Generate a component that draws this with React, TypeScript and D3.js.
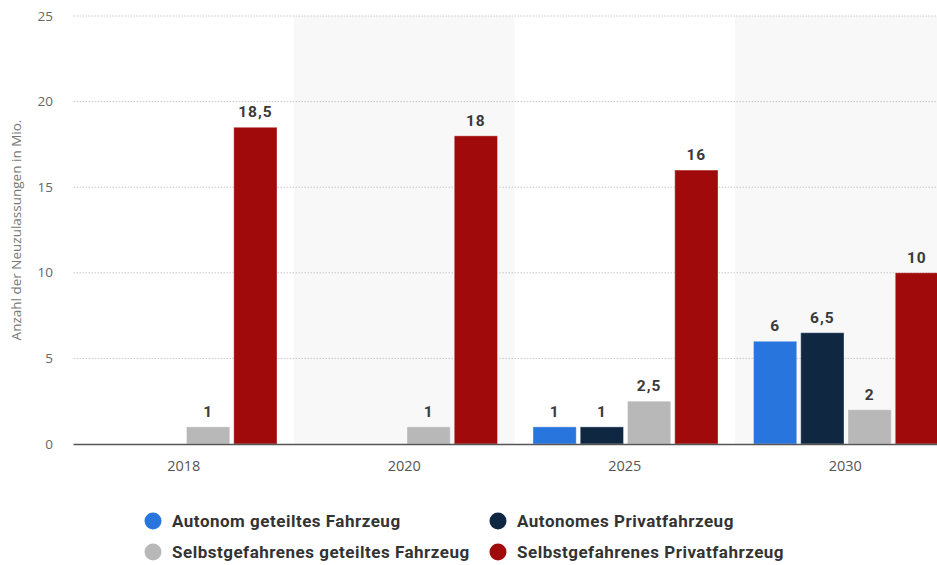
import React from "react";
import * as d3 from "d3";

const categories = ["2018", "2020", "2025", "2030"];
const seriesNames = [
  "Autonom geteiltes Fahrzeug",
  "Autonomes Privatfahrzeug",
  "Selbstgefahrenes geteiltes Fahrzeug",
  "Selbstgefahrenes Privatfahrzeug",
];
const autonomGeteilt = [0, 0, 1, 6];
const autonomPrivat = [0, 0, 1, 6.5];
const selbstGeteilt = [1, 1, 2.5, 2];
const selbstPrivat = [18.5, 18, 16, 10];
const seriesValues = [autonomGeteilt, autonomPrivat, selbstGeteilt, selbstPrivat];
const seriesColors = ["#2876dd", "#0f2741", "#b8b8b8", "#a10a0a"];
const yTicks = [0, 5, 10, 15, 20, 25];
const yTitle = "Anzahl der Neuzulassungen in Mio.";

const W = 937;
const H = 565;
const left = 73.5;
const right = 955.5;
const top = 16;
const bottom = 444;

const fmt = (v: number) => String(v).replace(".", ",");

export default function App() {
  const x = d3.scaleBand<string>().domain(categories).range([left, right]).paddingInner(0).paddingOuter(0);
  const inner = d3
    .scaleBand<number>()
    .domain([0, 1, 2, 3])
    .range([18.5, x.bandwidth() - 17])
    .paddingInner(0.085);
  const y = d3.scaleLinear().domain([0, 25]).range([bottom, top]);
  const font = "'Open Sans', 'DejaVu Sans', sans-serif";
  const boldFont = "'Roboto', sans-serif";

  return (
    <svg width={W} height={H} style={{ position: "absolute", left: 0, top: 0, display: "block" }}>
      <rect x={0} y={0} width={W} height={H} fill="#ffffff" />
      {categories.map((c, i) =>
        i % 2 === 1 ? (
          <rect key={"band" + c} x={x(c)} y={top} width={x.bandwidth()} height={bottom - top} fill="#f8f8f8" />
        ) : null
      )}
      {yTicks.map((t) =>
        t === 0 ? null : (
          <line
            key={"g" + t}
            x1={left}
            x2={W}
            y1={y(t)}
            y2={y(t)}
            stroke="#c8c8c8"
            strokeWidth={1}
            strokeDasharray="1.5,1.5"
          />
        )
      )}
      {yTicks.map((t) => (
        <text key={"yt" + t} x={53} y={y(t) + 4.5} textAnchor="end" fontFamily={font} fontSize={13.5} fill="#666">
          {t}
        </text>
      ))}
      <text
        transform={`translate(21,${230}) rotate(-90)`}
        textAnchor="middle"
        fontFamily={font}
        fontSize={13.5}
        fill="#777"
      >
        {yTitle}
      </text>
      {seriesValues.map((vals, s) =>
        categories.map((c, i) => {
          const v = vals[i];
          if (v <= 0) return null;
          const bx = (x(c) as number) + (inner(s) as number);
          const by = y(v);
          return (
            <g key={"b" + s + c}>
              <rect
                x={bx}
                y={by}
                width={inner.bandwidth()}
                height={bottom - by}
                fill={seriesColors[s]}
                stroke="rgba(255,255,255,0.35)"
                strokeWidth={1}
              />
              <text
                x={bx + inner.bandwidth() / 2}
                y={by - 10}
                textAnchor="middle"
                fontFamily={boldFont}
                fontWeight="bold"
                fontSize={15.5}
                letterSpacing={1}
                fill="#3a3a3a"
              >
                {fmt(v)}
              </text>
            </g>
          );
        })
      )}
      <line x1={left} x2={W} y1={bottom + 0.5} y2={bottom + 0.5} stroke="#555" strokeWidth={1.5} />
      {categories.map((c) => (
        <text
          key={"xt" + c}
          x={(x(c) as number) + x.bandwidth() / 2}
          y={471}
          textAnchor="middle"
          fontFamily={font}
          fontSize={14.5}
          fill="#555"
        >
          {c}
        </text>
      ))}
      {seriesNames.map((n, i) => {
        const col = i % 2;
        const row = Math.floor(i / 2);
        const cx = col === 0 ? 153 : 498;
        const cy = row === 0 ? 521 : 552;
        return (
          <g key={"lg" + i}>
            <circle cx={cx} cy={cy} r={8.5} fill={seriesColors[i]} />
            <text
              x={cx + 19}
              y={cy + 6}
              fontFamily={boldFont}
              fontWeight="bold"
              fontSize={17}
              letterSpacing={0.5}
              fill="#333"
            >
              {n}
            </text>
          </g>
        );
      })}
    </svg>
  );
}
